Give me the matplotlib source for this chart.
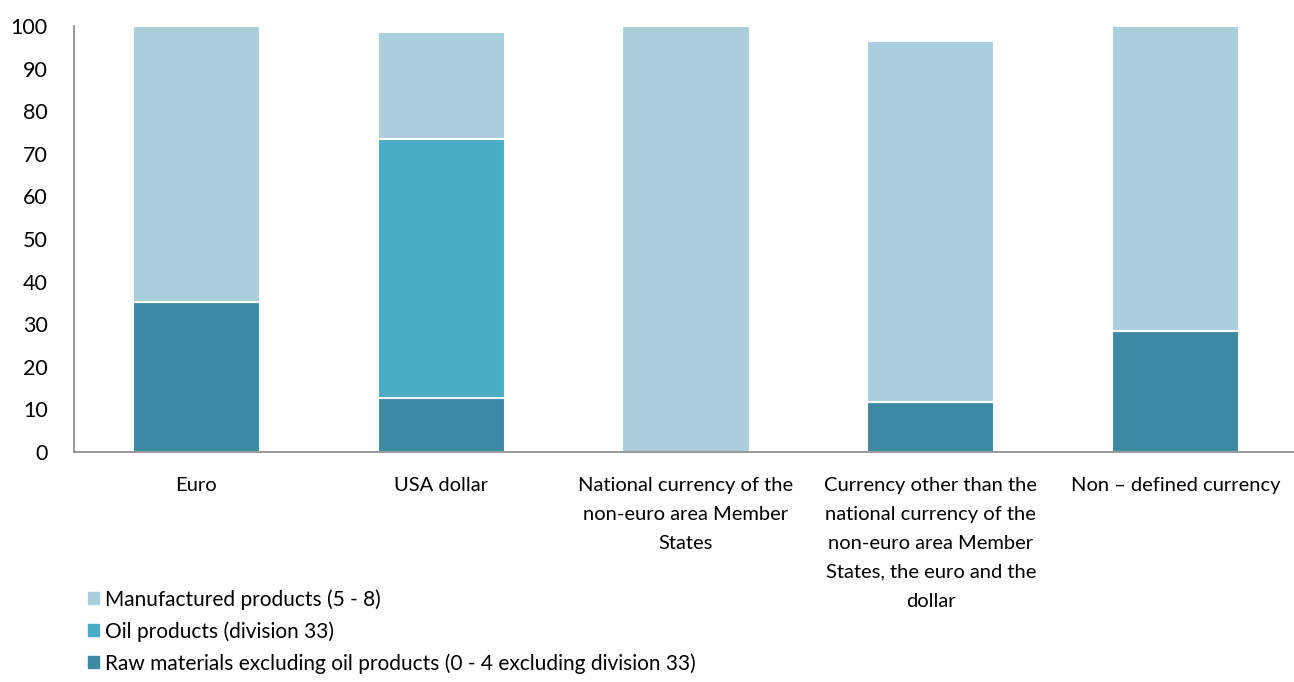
import numpy as np
import matplotlib.pyplot as plt
from matplotlib.patches import Patch

plt.rcParams['font.family'] = ['Lato', 'DejaVu Sans']

categories = [
    "Euro",
    "USA dollar",
    "National currency of the\nnon-euro area Member\nStates",
    "Currency other than the\nnational currency of the\nnon-euro area Member\nStates, the euro and the\ndollar",
    "Non \u2013 defined currency",
]
raw = [35.2, 12.7, 0.0, 11.7, 28.4]
oil = [0.0, 60.8, 0.0, 0.0, 0.0]
manufactured = [64.8, 25.1, 100.0, 84.8, 71.6]

colors = {
    "manufactured": "#A9CEDC",
    "oil": "#4AACC6",
    "raw": "#3C8AA2",
}

fig = plt.figure(figsize=(12.94, 6.82), dpi=100)
ax = fig.add_axes([74 / 1294, 1 - 452 / 682, 1224 / 1294, 426 / 682])

x = np.arange(len(categories))
w = 0.52
raw_a = np.array(raw)
oil_a = np.array(oil)
man_a = np.array(manufactured)

ax.bar(x, raw_a, w, color=colors["raw"], edgecolor="white", linewidth=1.5)
ax.bar(x, oil_a, w, bottom=raw_a, color=colors["oil"], edgecolor="white", linewidth=1.5)
ax.bar(x, man_a, w, bottom=raw_a + oil_a, color=colors["manufactured"],
       edgecolor="white", linewidth=1.5)

ax.set_xlim(-0.5, len(categories) - 0.5)
ax.set_ylim(0, 100)
ax.set_yticks(range(0, 101, 10))
ax.set_xticks(x)
ax.set_xticklabels(categories, fontsize=14.5, linespacing=1.85)
ax.tick_params(axis="y", labelsize=15.5, length=0, pad=19)
ax.tick_params(axis="x", length=0, pad=18)

for s in ["top", "right"]:
    ax.spines[s].set_visible(False)
for s in ["left", "bottom"]:
    ax.spines[s].set_color("#868686")
    ax.spines[s].set_linewidth(1.2)

handles = [
    Patch(color=colors["manufactured"], label="Manufactured products (5 - 8)"),
    Patch(color=colors["oil"], label="Oil products (division 33)"),
    Patch(color=colors["raw"], label="Raw materials excluding oil products (0 - 4 excluding division 33)"),
]
fig.legend(handles=handles, loc="lower left", bbox_to_anchor=(80 / 1294, 0.0),
           frameon=False, fontsize=15, handlelength=0.5, handleheight=0.5,
           handletextpad=0.3, labelspacing=0.55, borderaxespad=0.0)

fig.savefig("out.png", dpi=100)
